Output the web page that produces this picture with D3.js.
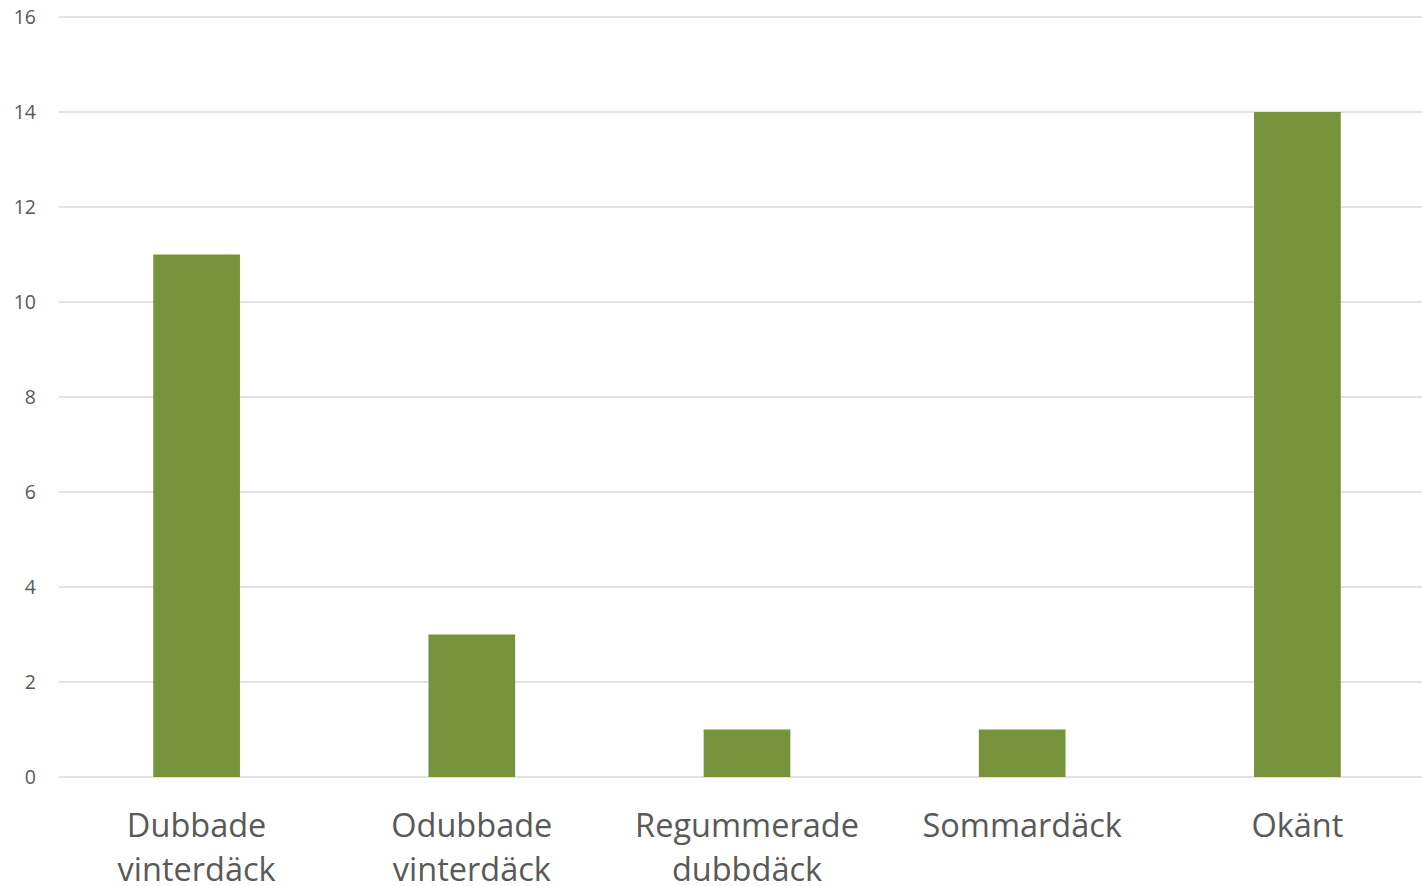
<!DOCTYPE html>
<html>
<head>
<meta charset="utf-8">
<script src="https://cdn.jsdelivr.net/npm/d3@7"></script>
<style>
	body { margin: 0; background: #fff; }
	svg { display: block; font-family: "Open Sans", sans-serif; }
</style>
</head>
<body>
<svg id="chart" width="1422" height="886"></svg>
<script>
var categories = [["Dubbade", "vinterdäck"], ["Odubbade", "vinterdäck"], ["Regummerade", "dubbdäck"], ["Sommardäck"], ["Okänt"]];
var values = [11, 3, 1, 1, 14];
var yTicks = [0, 2, 4, 6, 8, 10, 12, 14, 16];

var BAR_COLOR = "#77933C",
	GRID_COLOR = "#d9d9d9",
	TEXT_COLOR = "#595959";

var margin = { top: 17, right: 0, bottom: 109, left: 59 };
var svg = d3.select("#chart");
var width = 1422 - margin.left - margin.right;
var height = 886 - margin.top - margin.bottom;
// the plot area runs a bit past the right edge of the picture
var bandWidth = 1376;

var g = svg.append("g").attr("transform", "translate(" + margin.left + "," + margin.top + ")");

var x = d3.scaleBand()
	.domain(d3.range(values.length))
	.range([0, bandWidth])
	.paddingInner(0.685)
	.paddingOuter(0.3425);

var y = d3.scaleLinear().domain([0, 16]).range([height, 0]);

// gridlines
g.selectAll("line.grid")
	.data(yTicks)
	.enter().append("line")
	.attr("class", "grid")
	.attr("x1", 0).attr("x2", width)
	.attr("y1", function(d) { return y(d); })
	.attr("y2", function(d) { return y(d); })
	.attr("stroke", GRID_COLOR)
	.attr("stroke-width", 1.5);

// y axis labels
var yAxis = d3.axisLeft(y).tickValues(yTicks).tickSize(0).tickPadding(23);
var ya = g.append("g").call(yAxis);
ya.select(".domain").remove();
ya.selectAll("text")
	.attr("fill", TEXT_COLOR)
	.style("font-size", "19.5px")
	.style("font-family", "'Open Sans', sans-serif");

// bars
g.selectAll("rect.bar")
	.data(values)
	.enter().append("rect")
	.attr("class", "bar")
	.attr("x", function(d, i) { return x(i); })
	.attr("y", function(d) { return y(d); })
	.attr("width", x.bandwidth())
	.attr("height", function(d) { return height - y(d); })
	.attr("fill", BAR_COLOR);

// category labels
var labels = g.selectAll("text.cat")
	.data(categories)
	.enter().append("text")
	.attr("class", "cat")
	.attr("text-anchor", "middle")
	.attr("fill", TEXT_COLOR)
	.style("font-size", "32.5px")
	.attr("transform", function(d, i) {
		return "translate(" + (x(i) + x.bandwidth() / 2) + "," + (height + 60) + ")";
	});

labels.selectAll("tspan")
	.data(function(d) { return d; })
	.enter().append("tspan")
	.attr("x", 0)
	.attr("dy", function(d, i) { return i === 0 ? 0 : 44; })
	.text(function(d) { return d; });
</script>
</body>
</html>
